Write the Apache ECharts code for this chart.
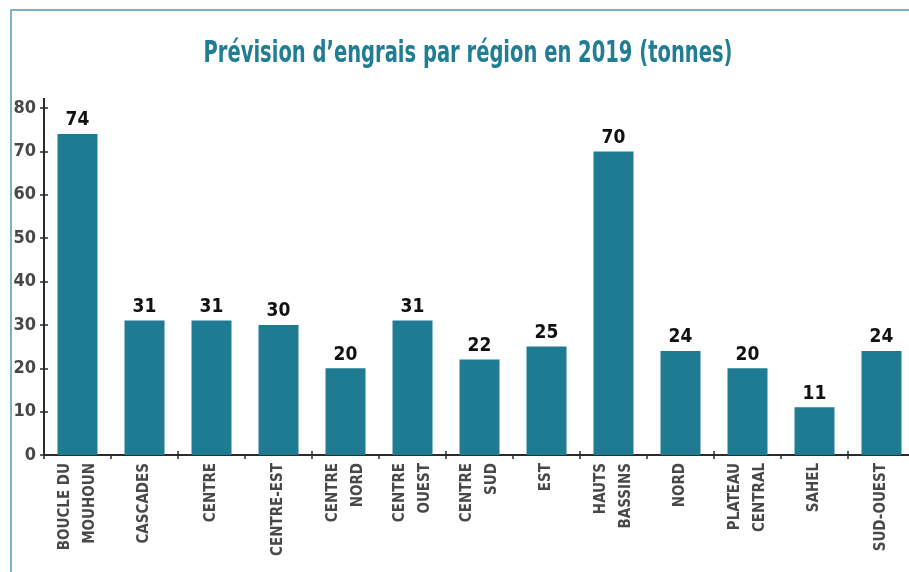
<!DOCTYPE html>
<html>
<head>
<meta charset="utf-8">
<script src="https://cdn.jsdelivr.net/npm/echarts@6/dist/echarts.min.js"></script>
<style>
  html, body { margin: 0; padding: 0; background: #ffffff; }
  #chart { width: 909px; height: 572px; }
</style>
</head>
<body>
<div id="chart"></div>
<script>
// Fertiliser forecast per region, 2019 (tonnes)
const titleText = 'Prévision d\u2019engrais par région en 2019 (tonnes)';
const categories = [
  'BOUCLE DU\nMOUHOUN', 'CASCADES', 'CENTRE', 'CENTRE-EST', 'CENTRE\nNORD',
  'CENTRE\nOUEST', 'CENTRE\nSUD', 'EST', 'HAUTS\nBASSINS', 'NORD',
  'PLATEAU\nCENTRAL', 'SAHEL', 'SUD-OUEST'
];
const values = [74, 31, 31, 30, 20, 31, 22, 25, 70, 24, 20, 11, 24];
const yMin = 0;
const yMax = 80;
const yStep = 10;

const FONT = '"DejaVu Sans Condensed", "DejaVu Sans", sans-serif';
const TEAL = '#1f7b91';
const AXIS = '#2b2b2b';

const chart = echarts.init(document.getElementById('chart'), null, { renderer: 'canvas' });

const frame = {
  type: 'rect',
  shape: { x: 11, y: 10, width: 1200, height: 1000 },
  style: { fill: 'none', stroke: '#4a9db3', lineWidth: 1.5 },
  silent: true
};

// heading, squeezed horizontally to read as a condensed face
const heading = {
  type: 'text',
  x: 468,
  y: 54,
  scaleX: 0.70,
  scaleY: 1,
  style: {
    text: titleText,
    align: 'center',
    verticalAlign: 'middle',
    font: 'bold 31px "DejaVu Sans Condensed", "DejaVu Sans", sans-serif',
    fill: '#217d93'
  },
  silent: true
};

const option = {
  backgroundColor: '#ffffff',
  animation: false,
  grid: {
    left: 44, right: -6, top: 108, bottom: 117,
    containLabel: false,
    outerBoundsMode: 'none'
  },
  xAxis: [
    {
      type: 'category',
      data: categories,
      axisLine: { show: true, lineStyle: { color: AXIS, width: 2 } },
      axisTick: { show: true, length: 4, lineStyle: { color: AXIS, width: 1.5 } },
      axisLabel: {
        rotate: 90,
        margin: 8,
        interval: 0,
        fontFamily: FONT,
        fontWeight: 'bold',
        fontSize: 15,
        lineHeight: 25,
        color: '#484848'
      }
    },
    {
      // inner half of the category ticks
      type: 'category',
      data: categories,
      position: 'bottom',
      axisLine: { show: false },
      axisTick: { show: true, inside: true, length: 4, lineStyle: { color: AXIS, width: 1.5 } },
      axisLabel: { show: false },
      splitLine: { show: false }
    }
  ],
  yAxis: [
    {
      type: 'value',
      min: yMin,
      max: yMax,
      interval: yStep,
      axisLine: { show: true, lineStyle: { color: AXIS, width: 2 } },
      axisTick: { show: true, length: 4, lineStyle: { color: AXIS, width: 1.5 } },
      splitLine: { show: false },
      axisLabel: {
        margin: 8,
        fontFamily: FONT,
        fontWeight: 'bold',
        fontSize: 18,
        color: '#484848'
      }
    },
    {
      // inner half of the value ticks
      type: 'value',
      min: yMin,
      max: yMax,
      interval: yStep,
      position: 'left',
      axisLine: { show: false },
      axisTick: { show: true, inside: true, length: 4, lineStyle: { color: AXIS, width: 1.5 } },
      splitLine: { show: false },
      axisLabel: { show: false }
    }
  ],
  series: [
    {
      type: 'bar',
      data: values,
      barWidth: 40,
      itemStyle: { color: TEAL },
      label: {
        show: true,
        position: 'top',
        distance: 4,
        fontFamily: FONT,
        fontWeight: 'bold',
        fontSize: 19,
        color: '#111111'
      }
    }
  ],
  graphic: [frame, heading]
};

chart.setOption(option);

// axis line runs a little past the top tick
const axisTopY = chart.convertToPixel({ yAxisIndex: 0 }, yMax);
chart.setOption({
  graphic: [
    frame,
    heading,
    {
      type: 'line',
      shape: { x1: 44, y1: axisTopY, x2: 44, y2: axisTopY - 10 },
      style: { stroke: AXIS, lineWidth: 2 },
      silent: true
    }
  ]
});
</script>
</body>
</html>
